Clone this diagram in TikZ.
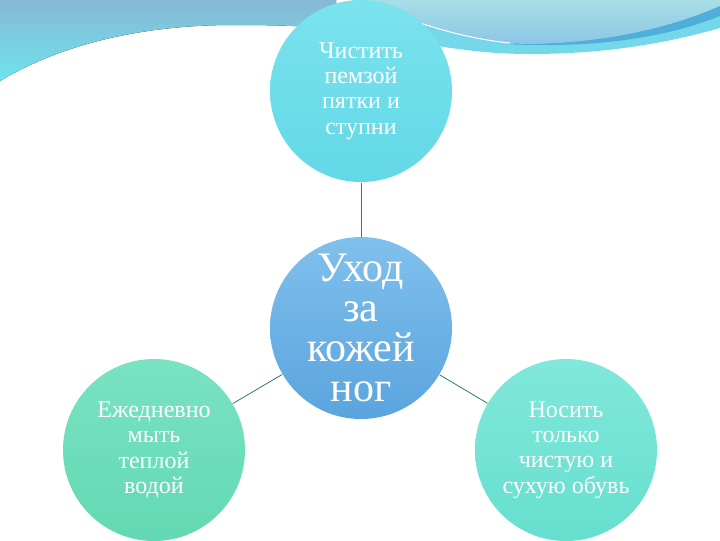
\documentclass[tikz,border=0pt]{standalone}
\usepackage{fontspec}
\setmainfont{Liberation Serif}

\definecolor{waveTop}{HTML}{86B8D4}
\definecolor{waveLow}{HTML}{6EE4EE}
\definecolor{lightWave}{HTML}{A8DEE6}
\definecolor{midWave}{HTML}{8CC6E6}
\definecolor{cyanWave}{HTML}{74D8EA}
\definecolor{stripeBlue}{HTML}{4FAEDA}
\definecolor{linkTeal}{HTML}{2E7A70}

\tikzset{every picture/.style={line width=0.75pt}}
\tikzset{
  bubble/.style={circle, minimum size=136.5pt, inner sep=0pt, align=center,
    text=white, font=\fontsize{18}{19}\selectfont},
  hubtext/.style={align=center, inner sep=0pt, text=white,
    font=\fontsize{31.5}{30}\selectfont},
  link/.style={draw=linkTeal, line width=0.6pt}
}

\begin{document}
\begin{tikzpicture}[x=0.75pt,y=0.75pt,yscale=-1,xscale=1]
\clip (0,0) rectangle (720,540);

%Shape: Wave top left
\fill[top color=waveTop, bottom color=waveLow] (0,0) -- (336,0) -- (336,30) .. controls (310,26) and (280,25) .. (233,25) .. controls (140,25) and (60,45) .. (0,81) -- cycle ;
%Shape: Wave top right
\fill[top color=lightWave, bottom color=midWave] (352,0) -- (720,0) -- (720,8) .. controls (660,30) and (600,44) .. (530,44) .. controls (490,44) and (450,34) .. (400,18) -- (352,18) -- cycle ;
%Shape: Cyan band
\fill[cyanWave] (400,18) .. controls (450,34) and (490,44) .. (530,44) .. controls (600,44) and (660,30) .. (720,8) -- (720,28) .. controls (660,45) and (600,54) .. (530,54) .. controls (490,54) and (460,50) .. (400,40) -- cycle ;
%Shape: Stripe
\fill[stripeBlue] (505,44) .. controls (600,46) and (670,28) .. (720,6) -- (720,16) .. controls (670,36) and (600,49) .. (505,44) -- cycle ;
\draw[white, line width=0.8pt] (420,23) .. controls (450,33) and (480,40) .. (510,43) ;

% Circles
\node[bubble, top color={rgb,255:red,122;green,227;blue,238}, bottom color={rgb,255:red,98;green,216;blue,230}] (clean) at (361,91) {Чистить\\пемзой\\пятки и\\ступни};
\node[bubble, top color={rgb,255:red,128;green,192;blue,236}, bottom color={rgb,255:red,90;green,164;blue,222}, label={[hubtext]center:Уход\\за\\кожей\\ног}] (care) at (361,328) {};
\node[bubble, top color={rgb,255:red,122;green,226;blue,194}, bottom color={rgb,255:red,98;green,217;blue,178}] (wash) at (154,450) {Ежедневно\\мыть\\теплой\\водой};
\node[bubble, top color={rgb,255:red,128;green,232;blue,218}, bottom color={rgb,255:red,102;green,223;blue,207}] (shoes) at (566,450) {Носить\\только\\чистую и\\сухую обувь};

% Connectors
\draw[link] (care) -- (clean) ;
\draw[link] (care) -- (wash) ;
\draw[link] (care) -- (shoes) ;

\end{tikzpicture}
\end{document}
